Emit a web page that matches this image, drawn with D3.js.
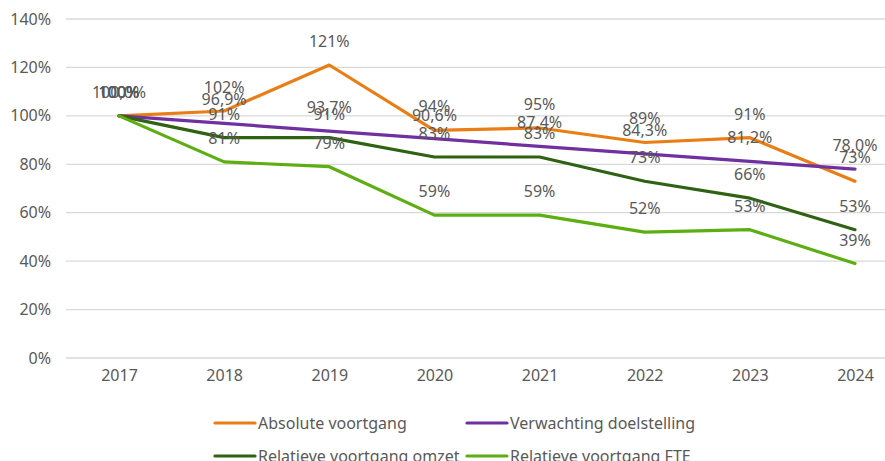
<!DOCTYPE html>
<html>
<head>
<meta charset="utf-8">
<script src="https://cdn.jsdelivr.net/npm/d3@7"></script>
<style>
  body { margin: 0; background: #fff; }
  text { font-family: "Noto Sans", sans-serif; }
</style>
</head>
<body>
<div class="chart"></div>
<script>
// data
var years = ["2017", "2018", "2019", "2020", "2021", "2022", "2023", "2024"];
var absolute = [100, 102, 121, 94, 95, 89, 91, 73];
var verwachting = [100, 96.9, 93.7, 90.6, 87.4, 84.3, 81.2, 78.0];
var omzet = [100, 91, 91, 83, 83, 73, 66, 53];
var fte = [100, 81, 79, 59, 59, 52, 53, 39];
var yTicks = [0, 20, 40, 60, 80, 100, 120, 140];

var series = [
  {name: "Absolute voortgang", values: absolute, color: "#E97E16", dec: 0},
  {name: "Verwachting doelstelling", values: verwachting, color: "#7030A0", dec: 1},
  {name: "Relatieve voortgang omzet", values: omzet, color: "#2F6212", dec: 0},
  {name: "Relatieve voortgang FTE", values: fte, color: "#5DAE12", dec: 0}
];

var width = 885, height = 461;
var fontSize = "16px";

var svg = d3.select(".chart")
    .append("svg")
    .attr("width", width)
    .attr("height", height);

// scales
var x = d3.scalePoint()
    .domain(years)
    .range([119, 855]);
var y = d3.scaleLinear()
    .domain([0, 140])
    .range([358, 19]);

// gridlines
svg.append("g")
    .selectAll("line")
    .data(yTicks)
    .join("line")
    .attr("x1", 66)
    .attr("x2", width)
    .attr("y1", function(d) { return y(d); })
    .attr("y2", function(d) { return y(d); })
    .attr("stroke", "#d9d9d9")
    .attr("stroke-width", 1.3);

// y axis labels
var yAxis = svg.append("g")
    .attr("transform", "translate(51,0)")
    .call(d3.axisLeft(y).tickValues(yTicks).tickSize(0).tickPadding(0)
        .tickFormat(function(d) { return d + "%"; }));
yAxis.select(".domain").remove();
yAxis.selectAll("text")
    .style("font-size", fontSize)
    .style("font-family", "Noto Sans, sans-serif")
    .attr("fill", "#595959");

// x axis labels
var xAxis = svg.append("g")
    .attr("transform", "translate(0,370)")
    .call(d3.axisBottom(x).tickSize(0).tickPadding(0));
xAxis.select(".domain").remove();
xAxis.selectAll("text")
    .style("font-size", fontSize)
    .style("font-family", "Noto Sans, sans-serif")
    .attr("fill", "#595959");

// lines
var line = d3.line()
    .x(function(d, i) { return x(years[i]); })
    .y(function(d) { return y(d); });

series.forEach(function(s) {
  svg.append("path")
      .datum(s.values)
      .attr("fill", "none")
      .attr("stroke", s.color)
      .attr("stroke-width", 3.2)
      .attr("stroke-linejoin", "round")
      .attr("stroke-linecap", "round")
      .attr("d", line);
});

// data labels
var fmt0 = function(v) { return d3.format(".0f")(v) + "%"; };
var fmt1 = function(v) { return d3.format(".1f")(v).replace(".", ",") + "%"; };

series.forEach(function(s) {
  svg.append("g")
      .selectAll("text")
      .data(s.values)
      .join("text")
      .attr("x", function(d, i) { return x(years[i]); })
      .attr("y", function(d) { return y(d) - 24; })
      .attr("text-anchor", "middle")
      .attr("dominant-baseline", "central")
      .style("font-size", fontSize)
      .attr("fill", "#595959")
      .text(function(d) { return s.dec ? fmt1(d) : fmt0(d); });
});

// legend
var legendPos = [[215, 423], [467, 423], [215, 456], [467, 456]];
series.forEach(function(s, i) {
  var p = legendPos[i];
  svg.append("line")
      .attr("x1", p[0]).attr("x2", p[0] + 40)
      .attr("y1", p[1]).attr("y2", p[1])
      .attr("stroke", s.color)
      .attr("stroke-width", 3.2)
      .attr("stroke-linecap", "round");
  svg.append("text")
      .attr("x", p[0] + 43)
      .attr("y", p[1])
      .attr("dominant-baseline", "central")
      .style("font-size", fontSize)
      .attr("fill", "#595959")
      .text(s.name);
});
</script>
</body>
</html>
